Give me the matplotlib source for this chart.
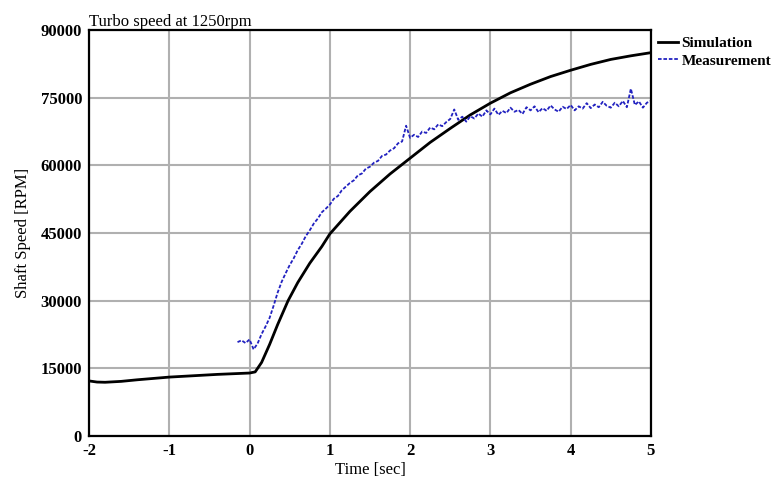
import numpy as np
import matplotlib.pyplot as plt

# simulation curve
sim_t = [-2.0, -1.9, -1.8, -1.6, -1.4, -1.2, -1.0, -0.8, -0.6, -0.4, -0.2, 0.0,
         0.07, 0.15, 0.25, 0.35, 0.48, 0.6, 0.75, 0.9, 1.0, 1.25, 1.5, 1.75,
         2.0, 2.25, 2.5, 2.75, 3.0, 3.25, 3.5, 3.75, 4.0, 4.25, 4.5, 4.75, 5.0]
sim_rpm = [12200, 11950, 11900, 12100, 12450, 12750, 13050, 13250, 13450, 13650, 13800, 13950,
           14200, 16300, 20300, 24700, 30000, 34000, 38300, 42000, 44800, 49800, 54200, 58100,
           61600, 65100, 68200, 71200, 73800, 76100, 78000, 79700, 81100, 82400, 83500, 84300, 85000]

# measured speed, every 0.05 s from -0.15 s
meas_t = np.round(np.arange(-0.15, 5.001, 0.05), 2)
meas_rpm = [20800, 21200, 20600, 21400, 19200, 20500, 22600, 24300, 26200, 28900,
            31800, 34200, 36100, 37900, 39400, 41200, 42600, 44300, 45600, 47100,
            48200, 49600, 50400, 51300, 52600, 53200, 54500, 55300, 56100, 56700,
            57800, 58200, 59300, 59700, 60600, 61000, 62100, 62400, 63300, 63800,
            64900, 65300, 68800, 66100, 66800, 66300, 67500, 67200, 68400, 68000,
            69100, 68700, 69600, 70300, 72400, 70100, 70800, 69700, 70900, 70400,
            71500, 70800, 72200, 71300, 72600, 71200, 72100, 71600, 72800, 71900,
            72300, 71400, 72900, 72200, 73100, 71800, 72700, 72100, 73300, 72400,
            71900, 73000, 72500, 73400, 72200, 73100, 72600, 73800, 72700, 73500,
            72900, 74100, 73200, 72800, 73900, 73100, 74300, 72900, 77000, 73400,
            74200, 72800, 73900, 74300]

x_ticks = [-2, -1, 0, 1, 2, 3, 4, 5]
y_ticks = [0, 15000, 30000, 45000, 60000, 75000, 90000]

plt.rcParams['font.family'] = ['Liberation Serif', 'DejaVu Serif']
plt.rcParams['axes.unicode_minus'] = False

fig = plt.figure(figsize=(7.74, 4.78), dpi=100)
ax = fig.add_axes([0.115, 0.088, 0.726, 0.849])

ax.plot(sim_t, sim_rpm, color='black', lw=2, label='Simulation')
ax.plot(meas_t, meas_rpm, color='#2222c0', lw=1.3, ls=(0, (2, 1)), label='Measurement')

ax.set_xlim(-2, 5)
ax.set_ylim(0, 90000)
ax.set_xticks(x_ticks)
ax.set_yticks(y_ticks)
ax.grid(True, color='#b0b0b0', lw=1.5)
ax.set_axisbelow(True)
ax.tick_params(length=0, labelsize=12, pad=5)
for lbl in ax.get_xticklabels() + ax.get_yticklabels():
    lbl.set_fontweight('bold')
for s in ax.spines.values():
    s.set_linewidth(1.6)
    s.set_color('black')

ax.set_xlabel('Time [sec]', fontsize=12, labelpad=2)
ax.set_ylabel('Shaft Speed [RPM]', fontsize=12, labelpad=7)
ax.set_title('Turbo speed at 1250rpm', fontsize=12, loc='left', pad=3)

fig.legend(loc='upper left', bbox_to_anchor=(0.836, 0.946), frameon=False,
           prop={'size': 11, 'weight': 'bold'}, handlelength=1.3,
           handletextpad=0.25, labelspacing=0.25, borderpad=0.2)

fig.savefig('out.png', dpi=100)
